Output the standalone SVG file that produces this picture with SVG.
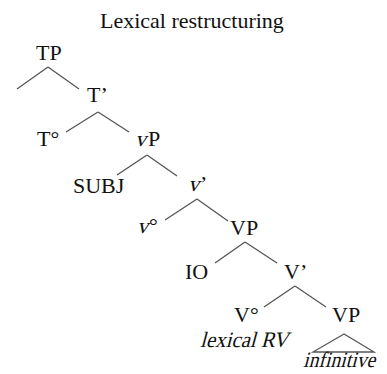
<svg xmlns="http://www.w3.org/2000/svg" width="387" height="374" viewBox="0 0 387 374">
<style>
text{font-family:"Liberation Serif","Times New Roman",serif;font-size:22px;fill:#111}
.c line,.c path{stroke:#555;stroke-width:1.3;fill:none}
</style>
<rect width="387" height="374" fill="#fff"/>
<text id="title" x="100" y="28">Lexical restructuring</text>
<g class="c" id="connectors">
<line x1="48" y1="67" x2="17" y2="89"/>
<line x1="48" y1="67" x2="79" y2="89"/>
<line x1="98" y1="112" x2="66" y2="132"/>
<line x1="98" y1="112" x2="129" y2="132"/>
<line x1="147" y1="155" x2="117" y2="175"/>
<line x1="147" y1="155" x2="177" y2="176"/>
<line x1="197" y1="199" x2="165" y2="220"/>
<line x1="197" y1="199" x2="228" y2="221"/>
<line x1="245" y1="242" x2="215" y2="263"/>
<line x1="245" y1="242" x2="277" y2="263"/>
<line x1="295" y1="286" x2="264" y2="307"/>
<line x1="295" y1="286" x2="326" y2="307"/>
<path d="M344,334 L313,352 L374,352 Z"/>
</g>
<g id="TP"><text x="36" y="60">TP</text></g>
<g id="Tbar"><text x="87" y="102">T’</text></g>
<g id="T0"><text x="37" y="146">T°</text></g>
<g id="vP"><g transform="translate(135,146) skewX(-15)"><text x="0" y="0">v</text></g><text x="148" y="146">P</text></g>
<g id="SUBJ"><text x="73" y="193">SUBJ</text></g>
<g id="vbar"><g transform="translate(188,191) skewX(-15)"><text x="0" y="0">v</text></g><text x="200" y="191">’</text></g>
<g id="v0"><g transform="translate(137,233) skewX(-15)"><text x="0" y="0">v</text></g><text x="149" y="233">°</text></g>
<g id="VP1"><text x="230" y="235">VP</text></g>
<g id="IO"><text x="185" y="279">IO</text></g>
<g id="Vbar"><text x="284" y="279">V’</text></g>
<g id="V0"><text x="234" y="322">V°</text><g transform="translate(200,347) skewX(-15)"><text x="0" y="0" textLength="88" lengthAdjust="spacingAndGlyphs">lexical RV</text></g></g>
<g id="VP2"><text x="332" y="322">VP</text><g transform="translate(303,367) skewX(-15)"><text x="0" y="0" font-size="20" textLength="72" lengthAdjust="spacingAndGlyphs">infinitive</text></g></g>
</svg>
